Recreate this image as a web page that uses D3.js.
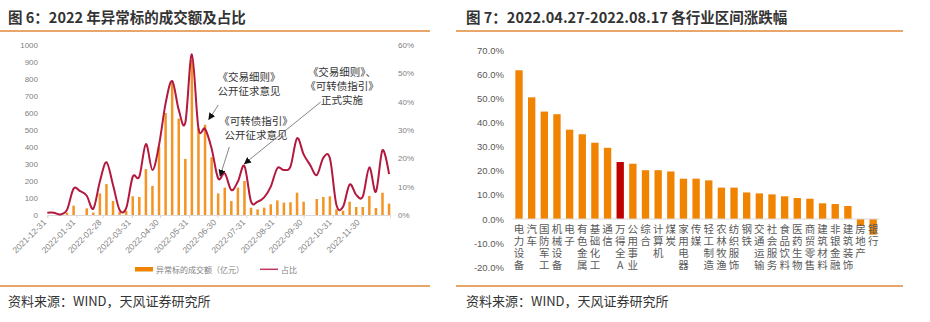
<!DOCTYPE html>
<html>
<head>
<meta charset="utf-8">
<script src="https://cdn.jsdelivr.net/npm/d3@7"></script>
<style>
body { margin: 0; background: #fff; }
text { font-family: "Liberation Sans", "Noto Sans CJK SC", sans-serif; }
.cjk { font-family: "Noto Sans CJK SC", sans-serif; }
</style>
</head>
<body>
<svg id="chart" width="930" height="322"></svg>
<script>
// ---- left chart data (weekly) ----
const weekDates = ["2021-12-31","2022-01-07","2022-01-14","2022-01-21","2022-01-28","2022-02-04","2022-02-11","2022-02-18","2022-02-25",
  "2022-03-04","2022-03-11","2022-03-18","2022-03-25","2022-04-01","2022-04-08","2022-04-15","2022-04-22","2022-04-29",
  "2022-05-06","2022-05-13","2022-05-20","2022-05-27","2022-06-03","2022-06-10","2022-06-17","2022-06-24","2022-07-01",
  "2022-07-08","2022-07-15","2022-07-22","2022-07-29","2022-08-05","2022-08-12","2022-08-19","2022-08-26","2022-09-02",
  "2022-09-09","2022-09-16","2022-09-23","2022-09-30","2022-10-07","2022-10-14","2022-10-21","2022-10-28","2022-11-04",
  "2022-11-11","2022-11-18","2022-11-25","2022-12-02","2022-12-09","2022-12-16","2022-12-23","2022-12-30"];
const turnover = [0,0,0,14,55,0,39,14,127,
  182,82,20,25,110,106,270,171,400,
  600,778,567,330,912,510,531,340,127,
  161,82,161,200,43,33,43,63,86,
  73,75,131,78,0,94,106,110,33,
  25,78,47,47,112,41,131,67];
const ratio = [0.8,0.8,0.2,1.8,9.3,8.4,6.8,2.2,11.8,
  18.6,10.6,1.8,2.4,13.5,13.5,25.0,15.9,24.7,
  39.4,47.3,37.1,32.6,56.7,30.6,30.4,23.5,12.9,
  14.7,8.8,11.8,17.3,4.7,4.7,6.2,10.0,16.5,
  15.9,17.1,27.1,21.4,17.6,14.1,20.2,20.0,3.5,
  2.9,10.8,7.1,6.5,16.8,8.2,22.9,14.4];
const monthTicks = ["2021-12-31","2022-01-31","2022-02-28","2022-03-31","2022-04-30","2022-05-31",
  "2022-06-30","2022-07-31","2022-08-31","2022-09-30","2022-10-31","2022-11-30"];
const amountTicks = [0,100,200,300,400,500,600,700,800,900,1000];
const ratioTicks = [0,10,20,30,40,50,60];

// ---- right chart data ----
const industries = ["电力设备","汽车","国防军工","机械设备","电子","有色金属","基础化工","通信","万得全A","公用事业",
  "综合","计算机","煤炭","家用电器","传媒","轻工制造","农林牧渔","纺织服饰","钢铁","交通运输",
  "社会服务","食品饮料","医药生物","商贸零售","建筑材料","非银金融","建筑装饰","房地产","银行"];
const changes = [61.6,50.4,44.5,43.4,37.0,35.1,31.6,29.5,23.6,22.9,
  20.2,20.2,19.7,16.7,16.7,16.0,13.0,13.0,11.0,10.6,
  10.2,9.4,8.7,8.4,6.5,6.2,5.4,-2.9,-6.5];
const changeTicks = [-20,-10,0,10,20,30,40,50,60,70];

const parseDate = d3.timeParse("%Y-%m-%d");
const svg = d3.select("#chart");
svg.append("rect").attr("width", 930).attr("height", 322).attr("fill", "#fff");

// ---- headers / footers ----
const orange = "#E2893A";
[[0, 430], [456, 903]].forEach(([a, b]) => {
  svg.append("line").attr("x1", a).attr("x2", b).attr("y1", 31).attr("y2", 31)
    .attr("stroke", orange).attr("stroke-width", 1.5);
  svg.append("line").attr("x1", a).attr("x2", b).attr("y1", 286).attr("y2", 286)
    .attr("stroke", orange).attr("stroke-width", 1.5);
});
svg.append("text").attr("class", "cjk").attr("x", 8).attr("y", 22.5)
  .attr("font-size", 14.5).attr("font-weight", 700).attr("fill", "#333")
  .text("图 6：2022 年异常标的成交额及占比");
svg.append("text").attr("class", "cjk").attr("x", 466).attr("y", 22.5)
  .attr("font-size", 14.5).attr("font-weight", 700).attr("fill", "#333")
  .text("图 7：2022.04.27-2022.08.17 各行业区间涨跌幅");
svg.append("text").attr("class", "cjk").attr("x", 8).attr("y", 306)
  .attr("font-size", 13).attr("fill", "#333").text("资料来源：WIND，天风证券研究所");
svg.append("text").attr("class", "cjk").attr("x", 466).attr("y", 306)
  .attr("font-size", 13).attr("fill", "#333").text("资料来源：WIND，天风证券研究所");

// ---- left chart ----
const x = d3.scaleTime()
  .domain([parseDate("2021-12-31"), parseDate("2022-12-31")])
  .range([47.3, 390]);
const yAmt = d3.scaleLinear().domain([0, 1000]).range([215, 45]);
const yPct = d3.scaleLinear().domain([0, 60]).range([215, 45]);

const left = svg.append("g");
const weeks = weekDates.map((d, i) => ({ date: parseDate(d), amt: turnover[i], pct: ratio[i] }));

// bars
left.selectAll(".bar").data(weeks.filter(d => d.amt > 0)).join("rect")
  .attr("x", d => x(d.date) - 1.25)
  .attr("width", 2.5)
  .attr("y", d => yAmt(d.amt))
  .attr("height", d => yAmt(0) - yAmt(d.amt))
  .attr("fill", "#F39425");

// x axis
const xAxis = left.append("g").attr("transform", "translate(0,215)")
  .call(d3.axisBottom(x)
    .tickValues(monthTicks.map(parseDate).concat([parseDate("2022-12-31")]))
    .tickSize(3)
    .tickFormat(d => d >= parseDate("2022-12-31") ? "" : d3.timeFormat("%Y-%m-%d")(d)));
xAxis.select(".domain").attr("stroke", "#d9d9d9");
xAxis.selectAll(".tick line").attr("stroke", "#d9d9d9");
xAxis.selectAll(".tick text")
  .attr("font-size", 8.5).attr("fill", "#7f7f7f")
  .attr("text-anchor", "end")
  .attr("dy", 0).attr("y", 0)
  .attr("transform", "translate(-1,8) rotate(-45)");

// y axes
const yl = left.append("g").attr("transform", "translate(42,0)")
  .call(d3.axisLeft(yAmt).tickValues(amountTicks).tickSize(0).tickPadding(4).tickFormat(d => d));
yl.select(".domain").remove();
yl.selectAll("text").attr("font-size", 8).attr("fill", "#7f7f7f");

const yr = left.append("g").attr("transform", "translate(394,0)")
  .call(d3.axisRight(yPct).tickValues(ratioTicks).tickSize(0).tickPadding(4).tickFormat(d => d + "%"));
yr.select(".domain").remove();
yr.selectAll("text").attr("font-size", 8).attr("fill", "#7f7f7f");

// ratio line
left.append("path").datum(weeks)
  .attr("fill", "none")
  .attr("stroke", "#B3193F")
  .attr("stroke-width", 2)
  .attr("d", d3.line()
    .x(d => x(d.date))
    .y(d => yPct(d.pct))
    .curve(d3.curveCatmullRom.alpha(0)));

// annotations
svg.append("defs").append("marker")
  .attr("id", "arrow").attr("viewBox", "0 0 10 10")
  .attr("refX", 9).attr("refY", 5)
  .attr("markerWidth", 7).attr("markerHeight", 7)
  .attr("markerUnits", "userSpaceOnUse")
  .attr("orient", "auto")
  .append("path").attr("d", "M0,0L10,5L0,10Z").attr("fill", "#111");

const notes = [
  { lines: ["《交易细则》", "公开征求意见"], tx: 249, ty: 81, from: [218.3, 105], to: ["2022-06-21", 33] },
  { lines: ["《可转债指引》", "公开征求意见"], tx: 256, ty: 125, from: [229.3, 147], to: ["2022-07-03", 13] },
  { lines: ["《交易细则》、", "《可转债指引》", "正式实施"], tx: 342, ty: 75.5, from: [320.7, 102], to: ["2022-07-29", 17.4] }
];
notes.forEach(n => {
  const t = svg.append("text").attr("class", "cjk").attr("font-size", 10.5)
    .attr("fill", "#333").attr("text-anchor", "middle");
  n.lines.forEach((l, i) => {
    t.append("tspan").attr("x", n.tx).attr("y", n.ty + i * 14).text(l);
  });
  svg.append("line")
    .attr("x1", n.from[0]).attr("y1", n.from[1])
    .attr("x2", x(parseDate(n.to[0]))).attr("y2", yPct(n.to[1]) - 2)
    .attr("stroke", "#666").attr("stroke-width", 0.8)
    .attr("marker-end", "url(#arrow)");
});

// legend
const lg = svg.append("g");
lg.append("rect").attr("x", 135).attr("y", 267).attr("width", 18).attr("height", 4.5).attr("fill", "#F08300");
lg.append("text").attr("class", "cjk").attr("x", 156).attr("y", 272.5).attr("font-size", 8)
  .attr("fill", "#7f7f7f").text("异常标的成交额（亿元）");
lg.append("line").attr("x1", 260).attr("x2", 278).attr("y1", 269.3).attr("y2", 269.3)
  .attr("stroke", "#C0395F").attr("stroke-width", 1.5);
lg.append("text").attr("class", "cjk").attr("x", 281).attr("y", 272.5).attr("font-size", 8)
  .attr("fill", "#7f7f7f").text("占比");

// ---- right chart ----
const xb = d3.scaleBand().domain(industries).range([512.7, 879.5]).paddingInner(0.42).paddingOuter(0.21);
const yc = d3.scaleLinear().domain([-20, 70]).range([267.3, 50]);
const right = svg.append("g");

const ry = right.append("g").attr("transform", "translate(508,0)")
  .call(d3.axisLeft(yc).tickValues(changeTicks).tickSize(0).tickPadding(4).tickFormat(d => d.toFixed(1) + "%"));
ry.select(".domain").remove();
ry.selectAll("text").attr("font-size", 9.5).attr("fill", "#595959");

right.selectAll(".cbar").data(industries).join("rect")
  .attr("x", d => xb(d))
  .attr("width", xb.bandwidth())
  .attr("y", (d, i) => yc(Math.max(0, changes[i])))
  .attr("height", (d, i) => Math.abs(yc(changes[i]) - yc(0)))
  .attr("fill", d => d === "万得全A" ? "#C00000" : "#F08300");

right.append("line").attr("x1", 512.7).attr("x2", 879.5).attr("y1", yc(0)).attr("y2", yc(0))
  .attr("stroke", "#d9d9d9").attr("stroke-width", 1);

// category labels, stacked one character per line
industries.forEach(name => {
  const cx = xb(name) + xb.bandwidth() / 2;
  Array.from(name).forEach((ch, j) => {
    right.append("text").attr("class", "cjk")
      .attr("x", cx).attr("y", yc(0) + 13.5 + j * 12)
      .attr("text-anchor", "middle").attr("font-size", 10.5)
      .attr("fill", "#595959").text(ch);
  });
});
</script>
</body>
</html>
